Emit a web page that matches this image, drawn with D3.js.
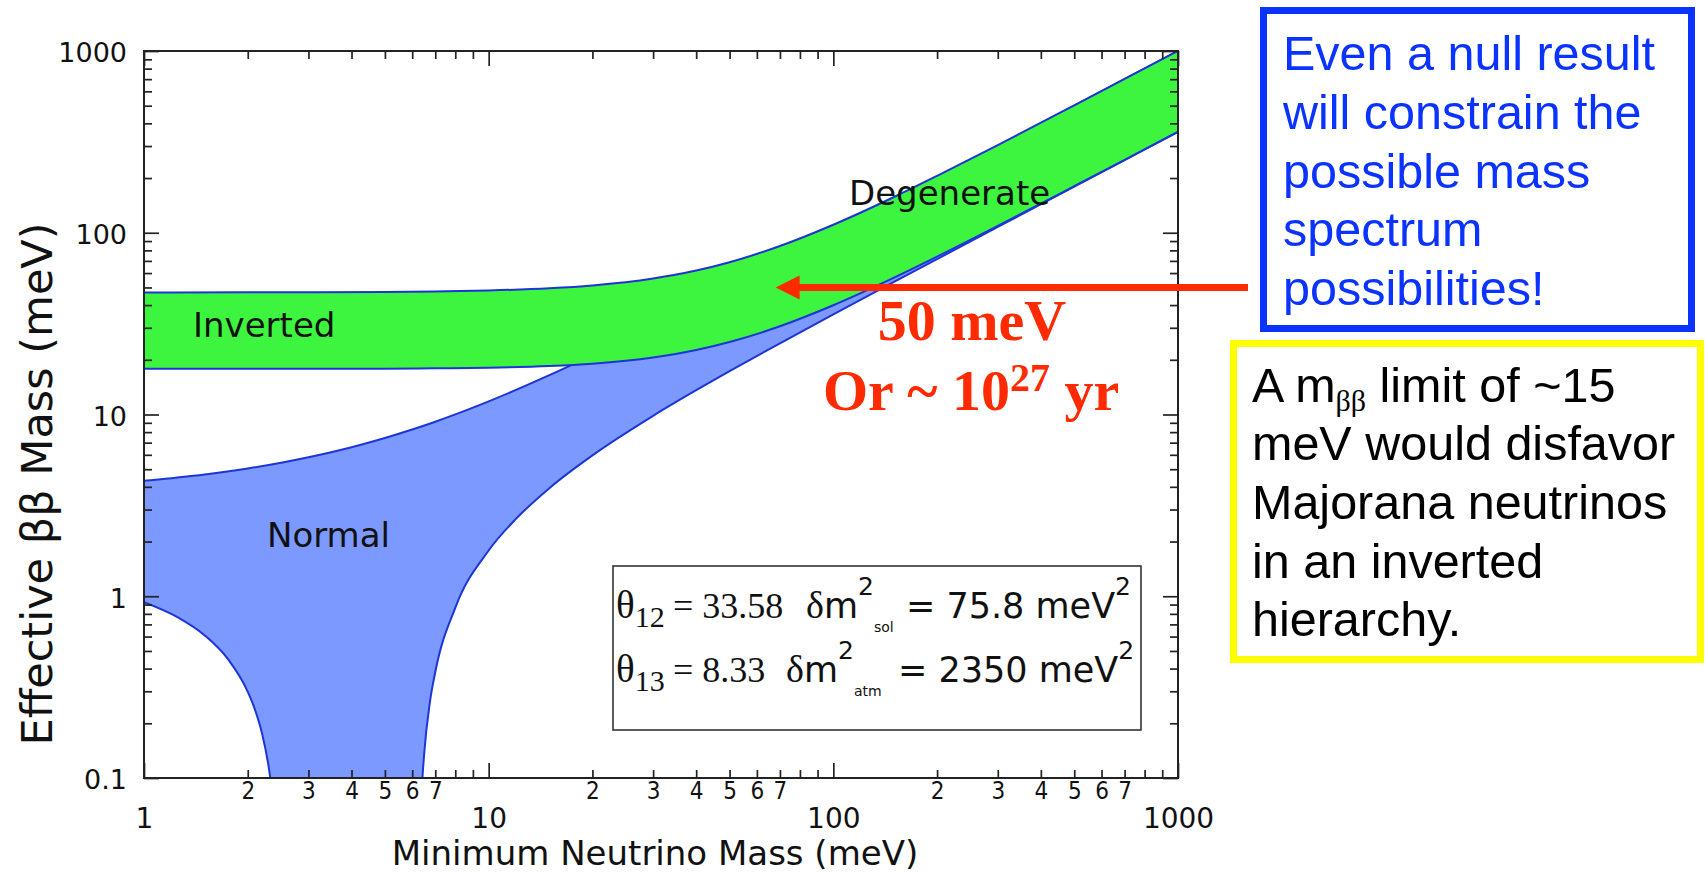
<!DOCTYPE html>
<html>
<head>
<meta charset="utf-8">
<script src="https://cdn.jsdelivr.net/npm/d3@7"></script>
<style>
  html, body { margin: 0; padding: 0; background: #ffffff; }
  svg { display: block; }
</style>
</head>
<body>
<svg id="chart" width="1705" height="874"></svg>
<script>
// ---- Effective Majorana mass bands (meV) vs lightest neutrino mass (meV) ----

// Normal ordering: upper edge of the allowed band
const normalMass  = [1, 1.5, 2, 2.5, 3, 4, 5, 6, 7, 8, 10, 15, 20, 30, 40, 50, 70, 100, 150, 200, 300, 500, 700, 1000];
const normalUpper = [4.32, 4.68, 5.05, 5.43, 5.82, 6.61, 7.43, 8.27, 9.13, 10.01, 11.81, 16.45, 21.22, 30.94, 40.76, 50.64, 70.48, 100.3, 150.2, 200.2, 300.1, 500.1, 700.1, 1000];

// Normal ordering: lower edge, left branch (falls toward full cancellation)
const normalLowMassLeft = [1, 1.25, 1.5, 1.75, 2, 2.1, 2.2, 2.3, 2.35, 2.4, 2.45];
const normalLowerLeft   = [0.927, 0.767, 0.609, 0.452, 0.298, 0.237, 0.176, 0.115, 0.085, 0.055, 0.025];

// Normal ordering: lower edge, right branch (rises out of cancellation)
const normalLowMassRight = [6.3, 6.4, 6.5, 6.75, 7, 8, 10, 12, 15, 20, 30, 40, 50, 70, 100, 150, 200, 300, 500, 700, 1000];
const normalLowerRight   = [0.037, 0.087, 0.136, 0.260, 0.383, 0.864, 1.786, 2.666, 3.934, 5.958, 9.834, 13.60, 17.32, 24.66, 35.56, 53.62, 71.63, 107.6, 179.5, 251.3, 359.0];

// Inverted ordering band
const invertedMass  = [1, 2, 3, 5, 7, 10, 15, 20, 30, 40, 50, 70, 100, 150, 200, 300, 500, 700, 1000];
const invertedUpper = [46.96, 47.01, 47.08, 47.28, 47.57, 48.14, 49.48, 51.27, 55.99, 61.96, 68.86, 84.53, 110.7, 157.3, 205.6, 303.7, 502.3, 701.6, 1001];
const invertedLower = [17.87, 17.86, 17.86, 17.88, 17.94, 18.08, 18.46, 19.02, 20.58, 22.64, 25.05, 30.59, 39.91, 56.60, 73.89, 109.1, 180.4, 251.9, 359.5];

// Axis ticks
const yMajorTicks  = [0.1, 1, 10, 100, 1000];
const yMajorLabels = ["0.1", "1", "10", "100", "1000"];
const xMajorTicks  = [1, 10, 100, 1000];
const xMajorLabels = ["1", "10", "100", "1000"];
const yDecades = [0.1, 1, 10, 100];
const xDecades = [1, 10, 100];
const minorSteps = [2, 3, 4, 5, 6, 7, 8, 9];
const labelledMinorSteps = [2, 3, 4, 5, 6, 7];

// Sensitivity annotation
const sensitivityMass = 50;     // meV, level marked by the arrow
const arrowTipMass = 68;        // meV, where the arrow head ends

// Side notes
const nullResultLines = ["Even a null result", "will constrain the", "possible mass", "spectrum", "possibilities!"];
const limitLines = ["meV would disfavor", "Majorana neutrinos", "in an inverted", "hierarchy."];

// ---------------------------------------------------------------------------
const svg = d3.select("#chart");
const plot = { left: 144, right: 1178, top: 51, bottom: 778 };

const x = d3.scaleLog().domain([1, 1000]).range([plot.left, plot.right]);
const y = d3.scaleLog().domain([0.1, 1000]).range([plot.bottom, plot.top]);

const SANS = "'DejaVu Sans', 'Noto Sans', sans-serif";
const ARIAL = "'Liberation Sans', Arial, sans-serif";
const SERIF = "'Liberation Serif', 'Times New Roman', serif";
const NARROW = "'Liberation Sans Narrow', 'DejaVu Sans Condensed', 'Arial Narrow', sans-serif";

const blueFill = "#7b99ff";
const greenFill = "#3df53f";
const edgeColor = "#1d35d6";
const red = "#ff2a00";

svg.append("defs").append("clipPath").attr("id", "plot-clip")
  .append("rect")
  .attr("x", plot.left).attr("y", plot.top)
  .attr("width", plot.right - plot.left).attr("height", plot.bottom - plot.top);

const bands = svg.append("g").attr("clip-path", "url(#plot-clip)");

const pairs = (xs, ys) => xs.map((m, i) => [m, ys[i]]);
const line = d3.line().x(d => x(d[0])).y(d => y(d[1])).curve(d3.curveMonotoneX);

const normalUpperPts = pairs(normalMass, normalUpper);
const normalLeftPts  = pairs(normalLowMassLeft, normalLowerLeft);
const normalRightPts = pairs(normalLowMassRight, normalLowerRight);

// Normal band: upper edge left->right, then lower edges right->left
const normalPath =
  line(normalUpperPts) +
  line(normalRightPts.slice().reverse()).replace(/^M/, "L") +
  line(normalLeftPts.slice().reverse()).replace(/^M/, "L") + "Z";

bands.append("path").attr("d", normalPath).attr("fill", blueFill).attr("stroke", "none");
[normalUpperPts, normalLeftPts, normalRightPts].forEach(pts => {
  bands.append("path").attr("d", line(pts))
    .attr("fill", "none").attr("stroke", edgeColor).attr("stroke-width", 2);
});

// Inverted band drawn on top
const invertedPts = invertedMass.map((m, i) => ({ m, lo: invertedLower[i], hi: invertedUpper[i] }));
const invArea = d3.area()
  .x(d => x(d.m)).y0(d => y(d.lo)).y1(d => y(d.hi))
  .curve(d3.curveMonotoneX);
bands.append("path").datum(invertedPts).attr("d", invArea).attr("fill", greenFill);
bands.append("path").attr("d", line(pairs(invertedMass, invertedUpper)))
  .attr("fill", "none").attr("stroke", edgeColor).attr("stroke-width", 2);
bands.append("path").attr("d", line(pairs(invertedMass, invertedLower)))
  .attr("fill", "none").attr("stroke", edgeColor).attr("stroke-width", 2);

// ---- Axes ----
const yMinorTicks = yDecades.flatMap(d => minorSteps.map(s => +(d * s).toPrecision(3)));
const xMinorTicks = xDecades.flatMap(d => minorSteps.map(s => d * s));

function styleAxis(g) {
  g.select(".domain").remove();
  g.selectAll(".tick line").attr("stroke", "#222").attr("stroke-width", 1.7);
  g.selectAll(".tick text").style("fill", "#111");
}

// left
svg.append("g").attr("transform", `translate(${plot.left},0)`)
  .call(d3.axisLeft(y).tickValues(yMajorTicks).tickSize(-15).tickPadding(17)
    .tickFormat((d, i) => yMajorLabels[i]))
  .call(styleAxis)
  .call(g => g.selectAll(".tick text")
    .style("font-family", SANS).style("font-size", "27px").attr("dy", "0.4em"));
svg.append("g").attr("transform", `translate(${plot.left},0)`)
  .call(d3.axisLeft(y).tickValues(yMinorTicks).tickSize(-8).tickFormat(""))
  .call(styleAxis);

// right
svg.append("g").attr("transform", `translate(${plot.right},0)`)
  .call(d3.axisRight(y).tickValues(yMajorTicks).tickSize(-15).tickFormat(""))
  .call(styleAxis);
svg.append("g").attr("transform", `translate(${plot.right},0)`)
  .call(d3.axisRight(y).tickValues(yMinorTicks).tickSize(-8).tickFormat(""))
  .call(styleAxis);

// top
svg.append("g").attr("transform", `translate(0,${plot.top})`)
  .call(d3.axisTop(x).tickValues(xMajorTicks).tickSize(-15).tickFormat(""))
  .call(styleAxis);
svg.append("g").attr("transform", `translate(0,${plot.top})`)
  .call(d3.axisTop(x).tickValues(xMinorTicks).tickSize(-8).tickFormat(""))
  .call(styleAxis);

// bottom
svg.append("g").attr("transform", `translate(0,${plot.bottom})`)
  .call(d3.axisBottom(x).tickValues(xMajorTicks).tickSize(-15).tickPadding(30)
    .tickFormat((d, i) => xMajorLabels[i]))
  .call(styleAxis)
  .call(g => g.selectAll(".tick text")
    .style("font-family", SANS).style("font-size", "28px").attr("dy", "0.72em"));
svg.append("g").attr("transform", `translate(0,${plot.bottom})`)
  .call(d3.axisBottom(x).tickValues(xMinorTicks).tickSize(-8).tickPadding(4)
    .tickFormat(d => {
      const step = Math.round(d / Math.pow(10, Math.floor(Math.log10(d) + 1e-9)));
      return labelledMinorSteps.includes(step) ? String(step) : "";
    }))
  .call(styleAxis)
  .call(g => g.selectAll(".tick text").style("font-family", NARROW)
    .style("font-stretch", "condensed").style("font-size", "24px"));

// frame
svg.append("rect")
  .attr("x", plot.left).attr("y", plot.top)
  .attr("width", plot.right - plot.left).attr("height", plot.bottom - plot.top)
  .attr("fill", "none").attr("stroke", "#222").attr("stroke-width", 2);

// axis titles
svg.append("text")
  .attr("x", 655).attr("y", 865).attr("text-anchor", "middle")
  .attr("font-family", SANS).attr("font-size", 34).attr("fill", "#111")
  .text("Minimum Neutrino Mass (meV)");
svg.append("text")
  .attr("transform", "translate(52,484) rotate(-90)").attr("text-anchor", "middle")
  .attr("font-family", SANS).attr("font-size", 43).attr("fill", "#111")
  .text("Effective ββ Mass (meV)");

// band names
const bandLabel = (tx, ty, s) => svg.append("text").attr("x", tx).attr("y", ty)
  .attr("font-family", SANS).attr("font-size", 34).attr("fill", "#111").text(s);
bandLabel(193, 337, "Inverted");
bandLabel(267, 547, "Normal");
bandLabel(849, 205, "Degenerate");

// ---- oscillation parameter box ----
svg.append("rect").attr("x", 613).attr("y", 566).attr("width", 528).attr("height", 164)
  .attr("fill", "#fff").attr("stroke", "#333").attr("stroke-width", 1.6);

function paramRow(base, sub, thetaVal, dmSub, dmVal, xs) {
  const t = svg.append("text").attr("y", base).attr("fill", "#111");
  t.append("tspan").attr("x", 616).attr("font-family", SERIF).attr("font-size", 39).text("θ");
  t.append("tspan").attr("font-family", SERIF).attr("font-size", 30).attr("dy", 9).text(sub);
  t.append("tspan").attr("x", xs.eq).attr("dy", -9).attr("font-family", SERIF).attr("font-size", 36).text("= " + thetaVal);
  t.append("tspan").attr("x", xs.delta).attr("font-family", SERIF).attr("font-size", 38).text("δ");
  t.append("tspan").attr("font-family", SANS).attr("font-size", 35).text("m");
  t.append("tspan").attr("font-family", SANS).attr("font-size", 25).attr("dy", -23).text("2");
  t.append("tspan").attr("font-family", SANS).attr("font-size", 14).attr("dy", 37).text(dmSub);
  t.append("tspan").attr("x", xs.eq2).attr("dy", -14).attr("font-family", SANS).attr("font-size", 35).text("= " + dmVal + " meV");
  t.append("tspan").attr("font-family", SANS).attr("font-size", 25).attr("dy", -23).text("2");
}
paramRow(618, "12", "33.58", "sol", "75.8", { eq: 673, delta: 806, eq2: 906 });
paramRow(682, "13", "8.33", "atm", "2350", { eq: 673, delta: 786, eq2: 898 });

// ---- sensitivity arrow and label ----
const arrowY = y(sensitivityMass);
const tipX = x(arrowTipMass);
svg.append("line")
  .attr("x1", tipX + 18).attr("y1", arrowY).attr("x2", 1248).attr("y2", arrowY)
  .attr("stroke", red).attr("stroke-width", 7);
svg.append("path")
  .attr("d", `M${tipX},${arrowY} L${tipX + 24},${arrowY - 12} L${tipX + 24},${arrowY + 12} Z`)
  .attr("fill", red);

svg.append("text").attr("x", 972).attr("y", 340).attr("text-anchor", "middle")
  .attr("font-family", SERIF).attr("font-weight", "bold").attr("font-size", 58).attr("fill", red)
  .text(sensitivityMass + " meV");
const life = svg.append("text").attr("x", 823).attr("y", 410)
  .attr("font-family", SERIF).attr("font-weight", "bold").attr("font-size", 58).attr("fill", red);
life.append("tspan").text("Or ~ 10");
life.append("tspan").attr("font-size", 40).attr("dy", -19).text("27");
life.append("tspan").attr("dy", 19).text(" yr");

// ---- side notes ----
svg.append("rect").attr("x", 1263.5).attr("y", 10.5).attr("width", 428).attr("height", 318)
  .attr("fill", "#fff").attr("stroke", "#0a33ff").attr("stroke-width", 7);
svg.append("g").selectAll("text").data(nullResultLines).join("text")
  .attr("x", 1283).attr("y", (d, i) => 70 + i * 58.8)
  .attr("font-family", ARIAL).attr("font-size", 48.5).attr("fill", "#0a33ff")
  .text(d => d);

svg.append("rect").attr("x", 1233.5).attr("y", 343.5).attr("width", 467).attr("height", 316)
  .attr("fill", "#fff").attr("stroke", "#ffff00").attr("stroke-width", 7);
const first = svg.append("text").attr("x", 1252).attr("y", 402)
  .attr("font-family", ARIAL).attr("font-size", 48.5).attr("fill", "#000");
first.append("tspan").text("A m");
first.append("tspan").attr("font-family", SERIF).attr("font-size", 30).attr("dy", 9).text("ββ");
first.append("tspan").attr("dy", -9).text(" limit of ~15");
svg.append("g").selectAll("text").data(limitLines).join("text")
  .attr("x", 1252).attr("y", (d, i) => 460 + i * 58.8)
  .attr("font-family", ARIAL).attr("font-size", 48.5).attr("fill", "#000")
  .text(d => d);
</script>
</body>
</html>
